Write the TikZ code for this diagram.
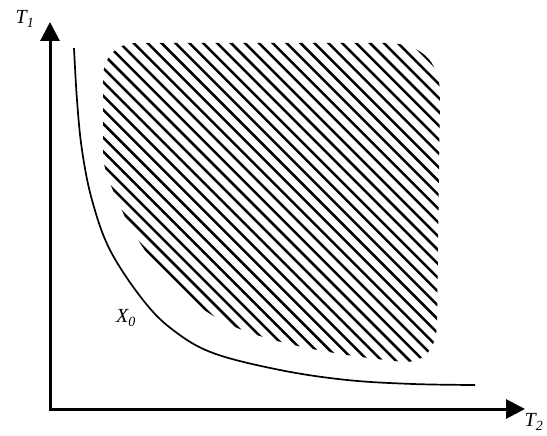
\documentclass[tikz,border=0pt]{standalone}
\usepackage{fontspec}
\setmainfont{Liberation Serif}
\usetikzlibrary{arrows.meta}

\begin{document}
\begin{tikzpicture}[x=1pt,y=-1pt,
  axis/.style={line width=3pt,{Triangle[length=19pt,width=19pt]}-{Triangle[length=19pt,width=19pt]}},
  hatchline/.style={line width=2.5pt},
  lbl/.style={font=\fontsize{20}{22}\selectfont\itshape,inner sep=0pt}]
 \useasboundingbox (0,0) rectangle (547,436);
 \coordinate (O) at (50,409);
 \coordinate (Ttop) at (50,22);
 \coordinate (Tright) at (525,409);
 \draw[axis] (Ttop) -- (O) -- (Tright);
 \node[lbl] (t1) at (25,19) {T\textsubscript{1}};
 \node[lbl] (t2) at (534,422) {T\textsubscript{2}};
 % hatched region
 \begin{scope}
  \clip (137,43) -- (385,43)
   .. controls (420,43) and (440,60) .. (440,95)
   -- (437,325)
   .. controls (436,348) and (425,362) .. (405,362)
   .. controls (330,355) and (270,342) .. (235,327)
   .. controls (180,303) and (140,255) .. (115,195)
   .. controls (106,175) and (103,165) .. (103,150)
   -- (103,78)
   .. controls (103,57) and (117,43) .. (137,43) -- cycle;
  \foreach \k in {-2,...,36}
   \draw[hatchline] (0,{90-13.9*\k}) -- (547,{637-13.9*\k});
 \end{scope}
 % curve X0
 \draw[line width=1.7pt] plot[smooth,tension=0.6] coordinates
  {(74,48) (77,100) (82,150) (92,200) (110,250) (143,300) (173,330)
   (213,353) (280,370) (347,380) (413,384) (475,385)};
 \node[lbl] (x0) at (126,318) {X\textsubscript{0}};
\end{tikzpicture}
\end{document}
